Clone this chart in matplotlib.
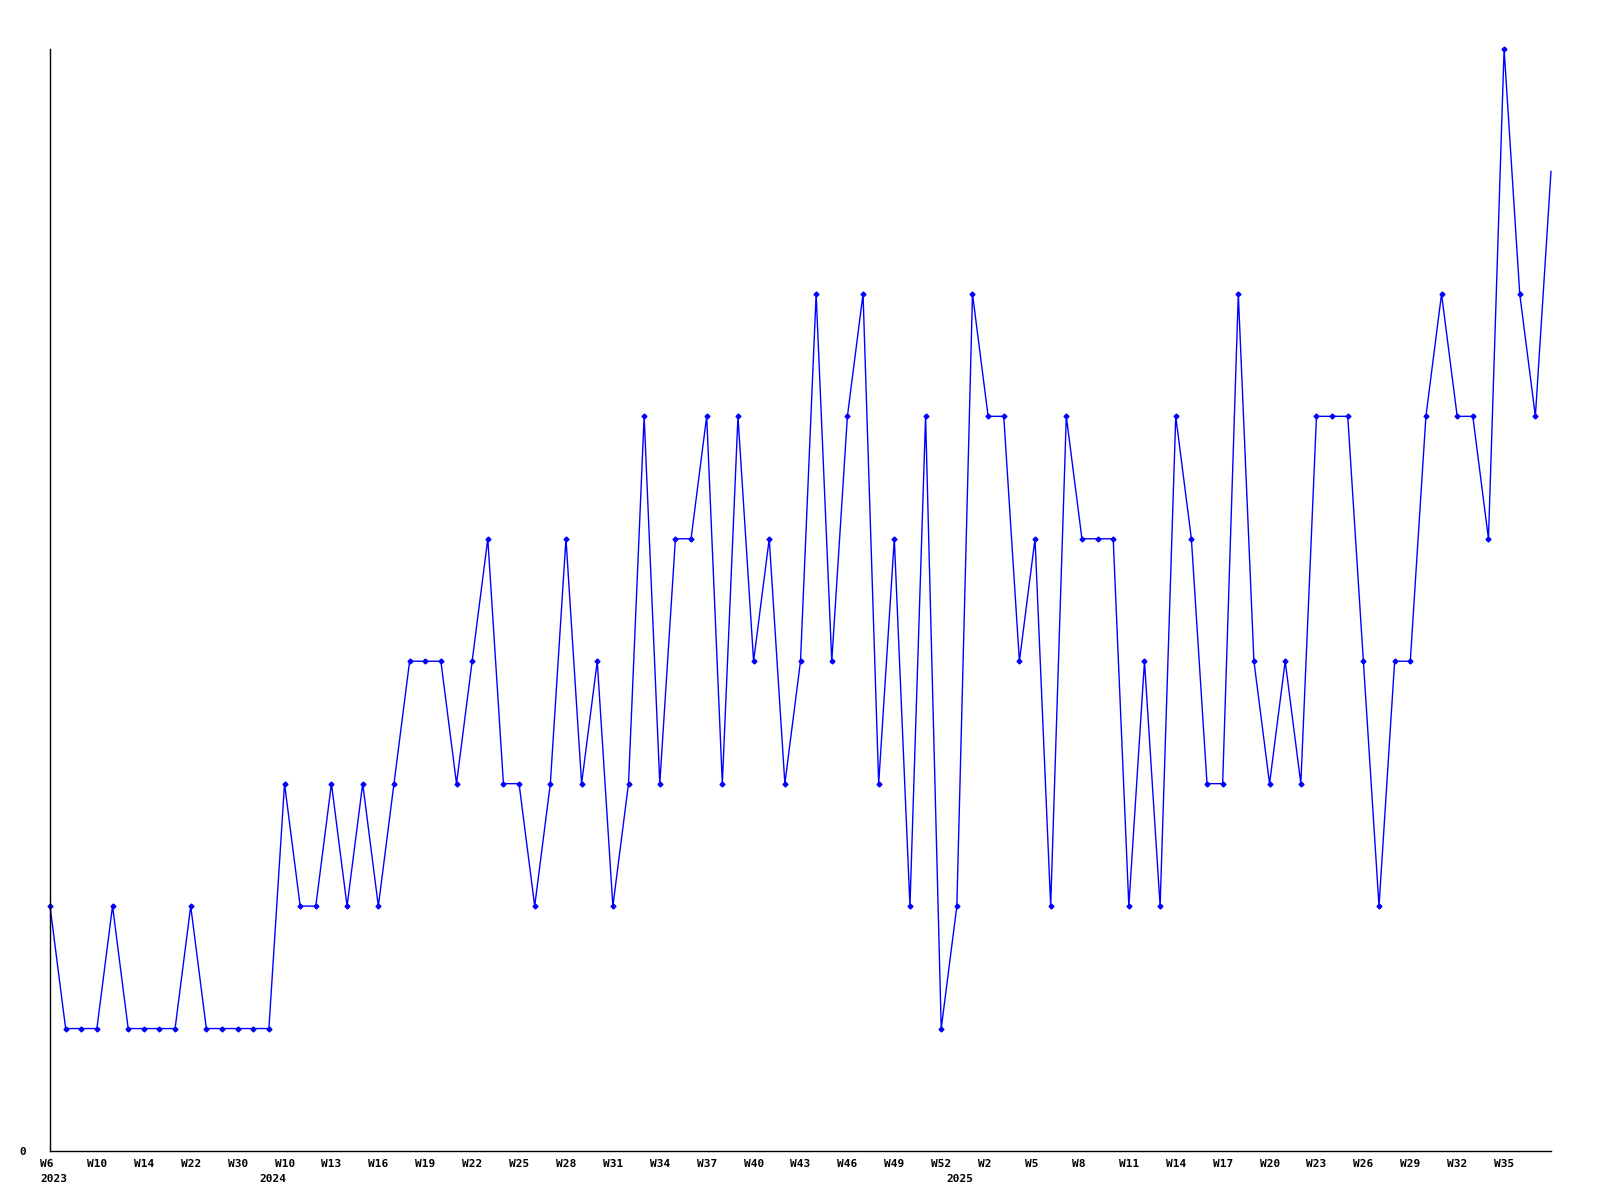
import matplotlib
matplotlib.use("Agg")
import matplotlib.pyplot as plt

# weekly counts, one value per plotted week
counts = [2, 1, 1, 1, 2, 1, 1, 1, 1, 2, 1, 1, 1, 1, 1,
          3, 2, 2, 3, 2, 3, 2, 3, 4, 4, 4, 3, 4, 5, 3,
          3, 2, 3, 5, 3, 4, 2, 3, 6, 3, 5, 5, 6, 3, 6,
          4, 5, 3, 4, 7, 4, 6, 7, 3, 5, 2, 6, 1, 2, 7,
          6, 6, 4, 5, 2, 6, 5, 5, 5, 2, 4, 2, 6, 5, 3,
          3, 7, 4, 3, 4, 3, 6, 6, 6, 4, 2, 4, 4, 6, 7,
          6, 6, 5, 9, 7, 6, 8]

week_tick_idx = list(range(0, 94, 3))
week_labels = ["W6", "W10", "W14", "W22", "W30", "W10", "W13", "W16", "W19",
               "W22", "W25", "W28", "W31", "W34", "W37", "W40", "W43", "W46",
               "W49", "W52", "W2", "W5", "W8", "W11", "W14", "W17", "W20",
               "W23", "W26", "W29", "W32", "W35"]
year_idx = [0, 14, 58]
year_labels = ["2023", "2024", "2025"]

W, H = 1600, 1200
fig = plt.figure(figsize=(16, 12), dpi=100)
ax = fig.add_axes([50 / W, 1 - 1151 / H, (1551 - 50) / W, (1151 - 49) / H])

x = list(range(len(counts)))
ax.plot(x, counts, color="#0000ff", lw=1.0, marker="D", markersize=2.5,
        markevery=list(range(len(counts) - 1)), clip_on=False)

ax.set_xlim(0, len(counts) - 1)
ax.set_ylim(0, 9)
for s in ["top", "right"]:
    ax.spines[s].set_visible(False)
for s in ["left", "bottom"]:
    ax.spines[s].set_linewidth(1.0)
    ax.spines[s].set_color("black")

ax.set_xticks([])
ax.set_yticks([0])
ax.set_yticklabels(["0"], fontfamily="DejaVu Sans Mono", fontweight="bold", fontsize=8)
ax.tick_params(axis="y", length=0, pad=17)

font = dict(fontfamily="DejaVu Sans Mono", fontweight="bold", fontsize=8)
for i, lab in zip(week_tick_idx, week_labels):
    ax.annotate(lab, xy=(i, 0), xycoords=("data", "axes fraction"),
                xytext=(-7.2, -9.2), textcoords="offset points",
                ha="left", va="center", annotation_clip=False, **font)
for i, lab in zip(year_idx, year_labels):
    ax.annotate(lab, xy=(i, 0), xycoords=("data", "axes fraction"),
                xytext=(-7.2, -20.5), textcoords="offset points",
                ha="left", va="center", annotation_clip=False, **font)

fig.savefig("out.png", dpi=100)
